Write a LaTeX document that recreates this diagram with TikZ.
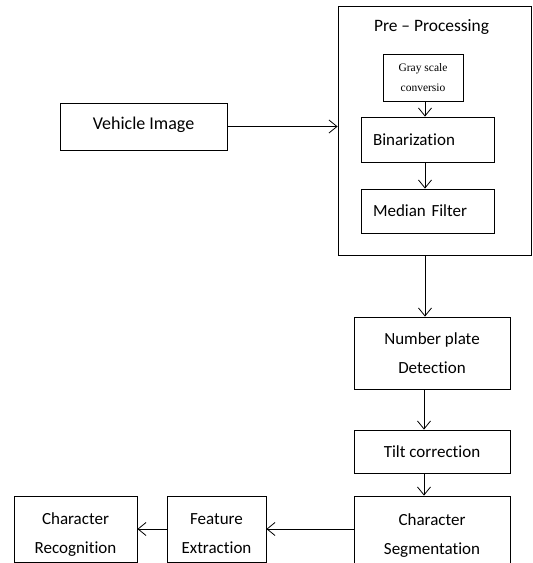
\documentclass[tikz,border=0pt]{standalone}
\usepackage{fontspec}
\setmainfont{Carlito}[Ligatures={NoCommon,NoContextual}]
\newfontfamily\serifsmall{Liberation Serif}
\usetikzlibrary{arrows.meta}
\newcommand{\shifttext}[2]{\raisebox{#1}[\height][\depth]{\begin{tabular}{@{}c@{}}#2\end{tabular}}}
\begin{document}
\begin{tikzpicture}[x=1pt,y=-1pt,
  box/.style={draw,line width=0.8pt,rectangle,inner sep=0pt,align=center,
    font=\fontsize{17}{29}\selectfont},
  arr/.style={line width=0.8pt,-{Straight Barb[length=8pt,width=13pt,line width=0.8pt]}}]
\useasboundingbox (0,0) rectangle (533,563);
\clip (0,0) rectangle (533,563);
% pre-processing container
\node[box,minimum width=193pt,minimum height=249pt] (pre) at (434.5,130.5) {};
\node[font=\fontsize{17.4}{20}\selectfont,inner sep=0pt] (pretitle) at (431.5,27) {Pre -- Processing};
\node[box,minimum width=80pt,minimum height=47pt,font=\serifsmall\fontsize{11.5}{20}\selectfont] (gray) at (423,77.5) {Gray scale\\conversio};
\node[box,minimum width=133pt,minimum height=45pt,text width=109pt,align=left] (bin) at (427.5,139.5) {Binarization};
\node[box,minimum width=133pt,minimum height=44pt,text width=109pt,align=left] (med) at (427.5,211) {Median Filter};
% left input
\node[box,minimum width=167pt,minimum height=47pt,font=\fontsize{18}{29}\selectfont] (veh) at (143.5,126.5) {\shifttext{2.5pt}{Vehicle Image}};
% right column
\node[box,minimum width=156pt,minimum height=72pt] (npd) at (432,353) {Number plate\\Detection};
\node[box,minimum width=156pt,minimum height=43pt] (tilt) at (432,451.5) {Tilt correction};
\node[box,minimum width=156pt,minimum height=72pt] (seg) at (432,532) {\shifttext{-2pt}{Character\\Segmentation}};
% bottom row
\node[box,minimum width=99pt,minimum height=66pt] (feat) at (216.5,529) {\shifttext{-4.5pt}{Feature\\Extraction}};
\node[box,minimum width=123pt,minimum height=66pt] (rec) at (75.5,529) {\shifttext{-4.5pt}{Character\\Recognition}};
% connectors
\draw[arr] (veh.east) -- (veh.east -| pre.west);
\draw[arr] (gray.south -| 425,0) -- (bin.north -| 425,0);
\draw[arr] (bin.south -| 425,0) -- (med.north -| 425,0);
\draw[arr] (pre.south -| 425,0) -- (npd.north -| 425,0);
\draw[arr] (npd.south -| 424,0) -- (tilt.north -| 424,0);
\draw[arr] (tilt.south -| 424,0) -- (seg.north -| 424,0);
\draw[arr] (seg.west |- 0,529) -- (feat.east |- 0,529);
\draw[arr] (feat.west) -- (rec.east);
\end{tikzpicture}
\end{document}
